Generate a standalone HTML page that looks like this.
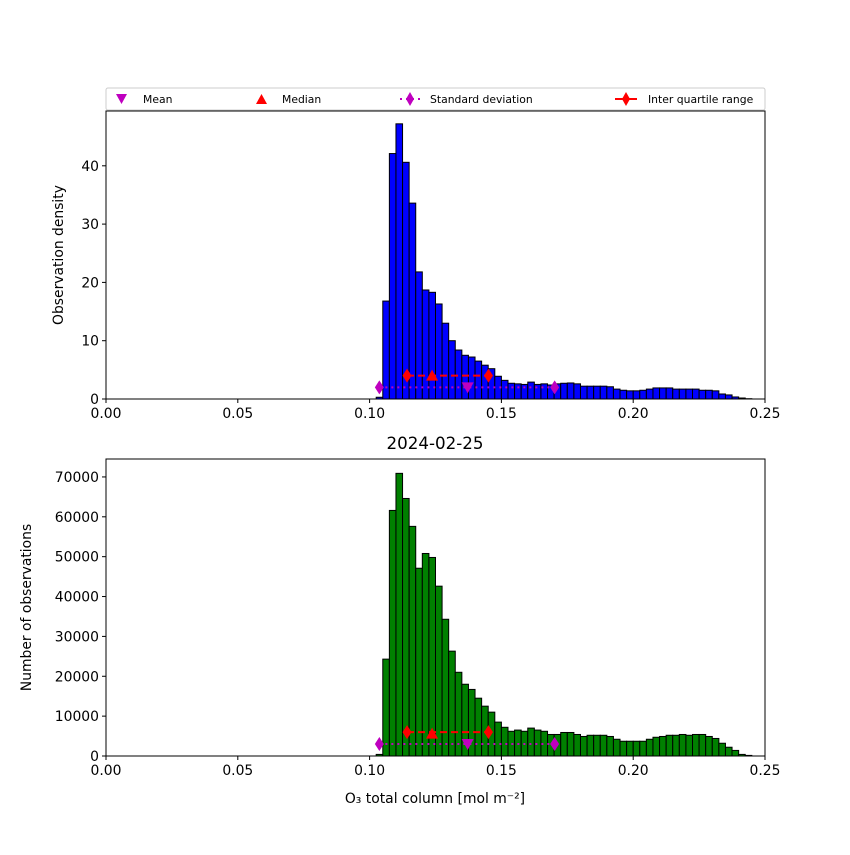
<!DOCTYPE html>
<html><head><meta charset="utf-8"><style>
body{margin:0;background:#fff}
svg text{font-family:"DejaVu Sans","Liberation Sans",sans-serif}
</style></head><body>
<svg id="chart" width="850" height="850" xmlns="http://www.w3.org/2000/svg"></svg>
<script>
const binStart = 0.1;
const binWidth = 0.0025;
const densityValues = [0,0.3,16.8,42.1,47.2,40.6,33.6,21.8,18.7,18.3,16.3,13.0,10.0,8.4,7.5,7.2,6.5,5.8,5.2,3.9,3.2,2.7,2.6,2.5,2.9,2.5,2.6,2.4,2.6,2.7,2.75,2.6,2.2,2.2,2.2,2.2,2.1,1.7,1.5,1.4,1.4,1.5,1.7,1.9,1.9,1.9,1.7,1.7,1.7,1.7,1.5,1.5,1.4,0.86,0.7,0.35,0.17,0.05];
const countValues = [0,400,24300,61600,70900,64600,57600,47100,50800,49800,42600,34300,26300,21000,18000,16700,14500,12500,11000,8500,7200,6200,6500,6200,7000,6500,6200,5400,5400,5900,5900,5400,4900,5200,5200,5200,4900,4200,3700,3700,3700,3700,4200,4700,4900,5200,5200,5400,5200,5400,5400,4900,4400,3200,2200,1400,400,150];
const xTicks = [0.00,0.05,0.10,0.15,0.20,0.25];
const densityTicks = [0,10,20,30,40];
const countTicks = [0,10000,20000,30000,40000,50000,60000,70000];
const statMean = 0.1372, statMedian = 0.1237, statStdLo = 0.1037, statStdHi = 0.1702, statIqrLo = 0.1142, statIqrHi = 0.1451;
const topStatY = {std:2, mean:2, iqr:4, median:4};
const botStatY = {std:3000, mean:3000, iqr:6000, median:5600};

const NS="http://www.w3.org/2000/svg";
const svg=document.getElementById('chart');
function el(tag,attrs,parent){const e=document.createElementNS(NS,tag);for(const k in attrs)e.setAttribute(k,attrs[k]);(parent||svg).appendChild(e);return e;}
const X0=106,X1=765;
const xs=v=>X0+(v/0.25)*(X1-X0);

function panel(name,top,bottom,ymax,vals,color,ticks,ylabel,stat,st){
  const g=el('g',{});
  
  
  const ys=v=>bottom-(v/ymax)*(bottom-top);
  vals.forEach((v,i)=>{
    const x=xs(binStart+i*binWidth), w=xs(binStart+(i+1)*binWidth)-x;
    const r=el('rect',{x:x,y:ys(v),width:w,height:bottom-ys(v),fill:color,stroke:'#000','stroke-width':1},g);
    
    
  });
  const sy=ys(st.std), iy=ys(st.iqr);
  const l1=el('line',{x1:xs(statStdLo),x2:xs(statStdHi),y1:sy,y2:sy,stroke:'#bf00bf','stroke-width':2,'stroke-dasharray':'2,4'},g);
  
  
  const l2=el('line',{x1:xs(statIqrLo),x2:xs(statIqrHi),y1:iy,y2:iy,stroke:'#f00','stroke-width':2,'stroke-dasharray':'7,4'},g);
  
  
  const dia=(x,y,c,n)=>{const p=el('path',{d:`M${x},${y-7}L${x+4.5},${y}L${x},${y+7}L${x-4.5},${y}Z`,fill:c},g);
    
    };
  dia(xs(statStdLo),sy,'#bf00bf','std-marker');dia(xs(statStdHi),sy,'#bf00bf','std-marker');
  dia(xs(statIqrLo),iy,'#f00','iqr-marker');dia(xs(statIqrHi),iy,'#f00','iqr-marker');
  const mx=xs(statMean),my=ys(st.mean);
  const m=el('path',{d:`M${mx-6},${my-5}L${mx+6},${my-5}L${mx},${my+6}Z`,fill:'#bf00bf'},g);
  
  
  const dx=xs(statMedian),dy=ys(st.median);
  const d=el('path',{d:`M${dx-6},${dy+5}L${dx+6},${dy+5}L${dx},${dy-6}Z`,fill:'#f00'},g);
  
  
  const f=el('rect',{x:X0,y:top,width:X1-X0,height:bottom-top,fill:'none',stroke:'#000','stroke-width':1},g);
  
  
  xTicks.forEach(t=>{
    el('line',{x1:xs(t),x2:xs(t),y1:bottom,y2:bottom+4,stroke:'#000'},g);
    const tx=el('text',{x:xs(t),y:bottom+19,'text-anchor':'middle','font-size':13.9},g);
    tx.textContent=t.toFixed(2);
    
    
  });
  ticks.forEach(t=>{
    el('line',{x1:X0-4,x2:X0,y1:ys(t),y2:ys(t),stroke:'#000'},g);
    const tx=el('text',{x:X0-7,y:ys(t)+5,'text-anchor':'end','font-size':13.9},g);
    tx.textContent=t;
    
    
  });
  const yl=el('text',{x:0,y:0,'text-anchor':'middle','font-size':13.9,transform:`translate(${ylabel[1]},${(top+bottom)/2}) rotate(-90)`},g);
  yl.textContent=ylabel[0];
  
  
}
panel('density',111,399,49.4,densityValues,'#0000ff',densityTicks,['Observation density',63],0,topStatY);
panel('count',459,756,74500,countValues,'#008000',countTicks,['Number of observations',31],0,botStatY);

const title=el('text',{x:435,y:449,'text-anchor':'middle','font-size':16.7});
title.textContent='2024-02-25';


const xl=el('text',{x:435,y:803,'text-anchor':'middle','font-size':13.9});
xl.textContent='O₃ total column [mol m⁻²]';



const lg=el('g',{});


el('rect',{x:106,y:88,width:659,height:22,rx:2,fill:'#fff',stroke:'#ccc'},lg);
function lt(x,s){const t=el('text',{x:x,y:103,'font-size':10.8},lg);t.textContent=s;
  
  }
el('path',{d:'M116,94L127,94L121.5,104Z',fill:'#bf00bf'},lg);lt(143,'Mean');
el('path',{d:'M256,104L267,104L261.5,94Z',fill:'#f00'},lg);lt(282,'Median');
el('line',{x1:400,x2:421,y1:99,y2:99,stroke:'#bf00bf','stroke-width':2,'stroke-dasharray':'2,4'},lg);
el('path',{d:'M410,92L414,99L410,106L406,99Z',fill:'#bf00bf'},lg);lt(430,'Standard deviation');
el('line',{x1:615,x2:637,y1:99,y2:99,stroke:'#f00','stroke-width':2},lg);
el('path',{d:'M626,92L630,99L626,106L622,99Z',fill:'#f00'},lg);lt(648,'Inter quartile range');
</script>
</body></html>
